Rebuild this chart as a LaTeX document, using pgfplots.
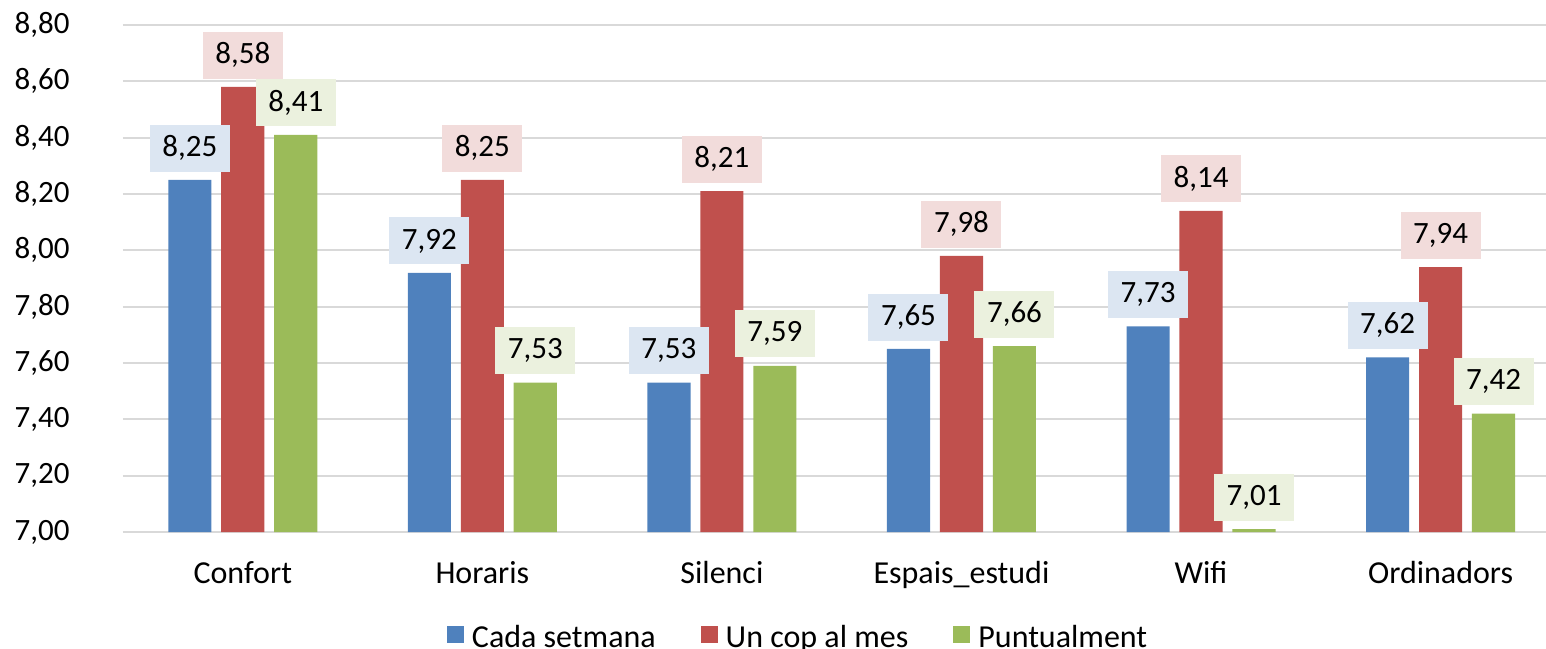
\documentclass[border=0pt]{standalone}
\usepackage{pgfplots}
\pgfplotsset{compat=1.18}
\usepackage{fontspec}
\setmainfont{Carlito}
\definecolor{cblue}{HTML}{4F81BD}
\definecolor{cred}{HTML}{C0504D}
\definecolor{cgreen}{HTML}{9BBB59}
\definecolor{lblue}{HTML}{DCE6F2}
\definecolor{lred}{HTML}{F2DCDB}
\definecolor{lgreen}{HTML}{EBF1DE}
\definecolor{gridgray}{HTML}{D9D9D9}
\newcommand{\fs}{\fontsize{15.5}{18}\selectfont}
\newcommand{\fc}{\fontsize{16}{19}\selectfont}
\pgfkeys{/pgf/number format/.cd, fixed, fixed zerofill, precision=2, use comma, assume math mode=true}
\pgfplotsset{
  lbl/.style 2 args={draw=none, mark=none, forget plot, nodes near coords,
    every node near coord/.append style={anchor=south, xshift=#1, yshift=4pt, fill=#2, inner sep=0pt,
      minimum width=40pt, minimum height=23.5pt, text=black, font=\fs}},
}
\begin{document}
\begin{tikzpicture}
\useasboundingbox (-61.5pt,-58pt) rectangle (711.5pt,266pt);
\begin{axis}[
  at={(0,0)}, anchor=south west,
  scale only axis, width=711.5pt, height=253.5pt,
  xmin=-0.5, xmax=5.44, ymin=7, ymax=8.8,
  ytick={7,7.2,7.4,7.6,7.8,8,8.2,8.4,8.6,8.8},
  xtick={0,1,2,3,4,5},
  xticklabels={Confort,Horaris,Silenci,Espais\_estudi,Wifi,Ordinadors},
  ymajorgrids, grid style={color=gridgray, line width=1pt},
  axis line style={draw=none},
  major tick length=0pt,
  yticklabel style={anchor=east, inner sep=0pt, xshift=-26.5pt, font=\fs},
  xticklabel style={anchor=base, inner sep=0pt, yshift=-25.5pt, font=\fc},
  legend style={at={(0.4737,-0.209)}, anchor=center, draw=none, fill=none, font=\fc, legend columns=-1,
    /tikz/every odd column/.append style={column sep=4pt},
    /tikz/every even column/.append style={column sep=22.5pt},
    nodes={inner sep=0pt}},
  legend image code/.code={\fill[#1] (0pt,-2.75pt) rectangle (8.5pt,5.75pt);},
]
\addplot[ybar, bar width=0.18, bar shift=-0.221, fill=cblue, draw=none]
  coordinates {(0,8.25) (1,7.92) (2,7.53) (3,7.65) (4,7.73) (5,7.62)};
\addplot[ybar, bar width=0.18, bar shift=0, fill=cred, draw=none]
  coordinates {(0,8.58) (1,8.25) (2,8.21) (3,7.98) (4,8.14) (5,7.94)};
\addplot[ybar, bar width=0.18, bar shift=0.221, fill=cgreen, draw=none]
  coordinates {(0,8.41) (1,7.53) (2,7.59) (3,7.66) (4,7.01) (5,7.42)};
\legend{Cada setmana, Un cop al mes, Puntualment}
\addplot[lbl={-26.5pt}{lblue}]
  coordinates {(0,8.25) (1,7.92) (2,7.53) (3,7.65) (4,7.73) (5,7.62)};
\addplot[lbl={0pt}{lred}]
  coordinates {(0,8.58) (1,8.25) (2,8.21) (3,7.98) (4,8.14) (5,7.94)};
\addplot[lbl={26.5pt}{lgreen}]
  coordinates {(0,8.41) (1,7.53) (2,7.59) (3,7.66) (4,7.01) (5,7.42)};
\end{axis}
\end{tikzpicture}
\end{document}
